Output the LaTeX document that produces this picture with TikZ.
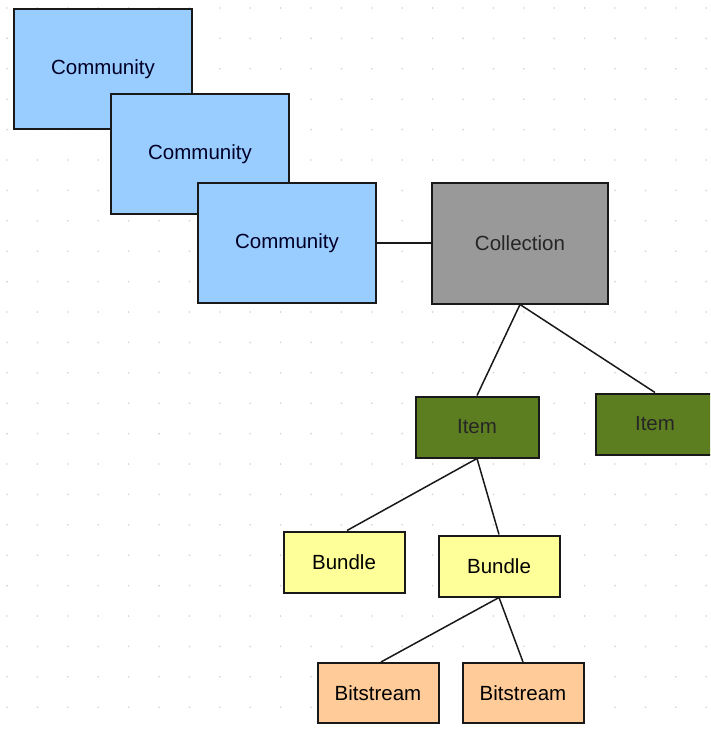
\documentclass[tikz,border=0pt]{standalone}
\usepackage{fontspec}
\setmainfont{Liberation Sans}

\definecolor{commblue}{RGB}{153,204,255}
\definecolor{collgray}{RGB}{153,153,153}
\definecolor{itemgreen}{RGB}{92,126,32}
\definecolor{bundyellow}{RGB}{255,255,153}
\definecolor{bitspeach}{RGB}{255,204,153}

\tikzset{
  box/.style={draw=black!90, line width=2pt, rectangle, inner sep=0pt,
    font=\fontsize{20.5}{24}\selectfont},
  commbox/.style={box, fill=commblue, text=black!85!blue, minimum width=178pt, minimum height=120pt},
  collbox/.style={box, fill=collgray, text=black!85, minimum width=176pt, minimum height=121pt},
  itembox/.style={box, fill=itemgreen, text=black!85, minimum width=123pt, minimum height=61pt},
  bundbox/.style={box, fill=bundyellow, minimum width=121pt, minimum height=61pt},
  bitsbox/.style={box, fill=bitspeach, minimum width=121pt, minimum height=60pt},
  link/.style={draw=black!90, line width=1.5pt}
}

\begin{document}
\begin{tikzpicture}[x=1pt, y=-1pt]
    \useasboundingbox (0,0) rectangle (710,733);
    \clip (0,0) rectangle (710,733);
    \fill[white] (0,0) rectangle (710,733);

    % Background dot grid
    \foreach \i in {0,...,23}
      \foreach \j in {0,...,23}
        \fill[gray!35] (7+30.4*\i, 8+30.4*\j) circle (0.9);

    % Communities, stacked
    \node[commbox] (com1) at (103,69)  {Community};
    \node[commbox] (com2) at (200,154) {Community};
    \node[commbox] (com3) at (287,243) {Community};

    % Collection and items
    \node[collbox] (coll)  at (520,243) {Collection};
    \node[itembox] (item1) at (477,427) {Item};
    \node[itembox, minimum width=118pt] (item2) at (655,424) {Item};

    % Bundles and bitstreams
    \node[bundbox] (bund1) at (344,562) {Bundle};
    \node[bundbox] (bund2) at (499,566) {Bundle};
    \node[bitsbox] (bits1) at (378,693) {Bitstream};
    \node[bitsbox] (bits2) at (523,693) {Bitstream};

    % Connectors
    \draw[link] (com3.east) -- (coll.west);
    \draw[link] (coll.south) -- (item1.north);
    \draw[link] (coll.south) -- (item2.north);
    \draw[link] (item1.south) -- ([xshift=3pt]bund1.north);
    \draw[link] (item1.south) -- (bund2.north);
    \draw[link] (bund2.south) -- ([xshift=3pt]bits1.north);
    \draw[link] (bund2.south) -- (bits2.north);
\end{tikzpicture}
\end{document}
